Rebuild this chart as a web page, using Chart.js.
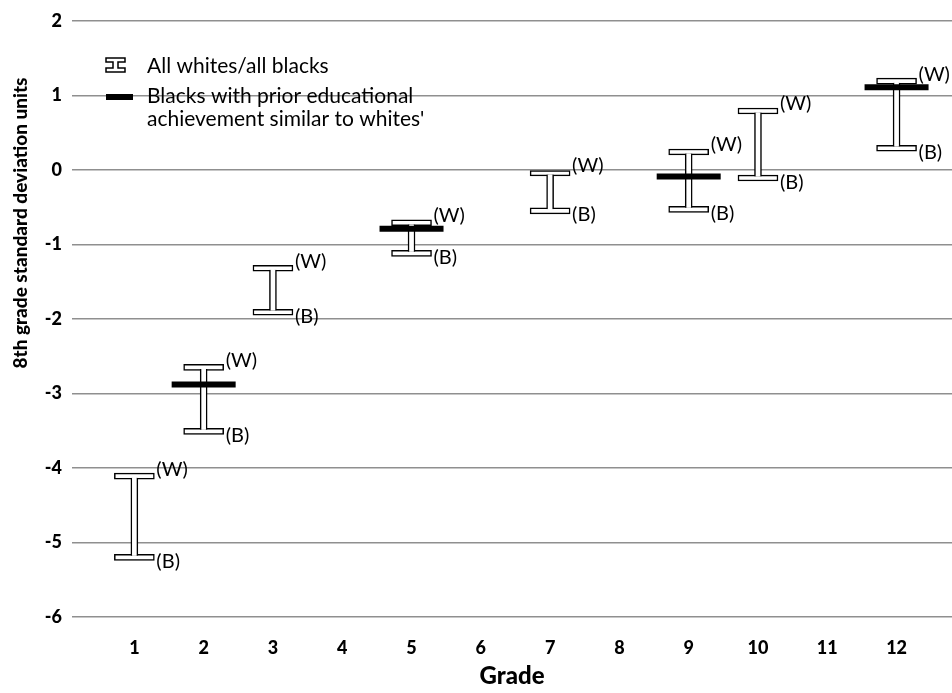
<!DOCTYPE html>
<html>
<head>
<meta charset="utf-8">
<script src="https://cdn.jsdelivr.net/npm/chart.js@4.4.0/dist/chart.umd.min.js"></script>
<style>
  html, body { margin: 0; padding: 0; background: #fff; }
  #wrap { width: 952px; height: 693px; }
</style>
</head>
<body>
<div id="wrap"><canvas id="chart" width="952" height="693"></canvas></div>
<script>
// grades that have an all whites / all blacks range
const grades = [1, 2, 3, 5, 7, 9, 10, 12];
const whites = [-4.11, -2.65, -1.32, -0.71, -0.04, 0.24, 0.79, 1.19];
const blacks = [-5.2, -3.51, -1.91, -1.12, -0.55, -0.53, -0.11, 0.29];

// blacks with prior achievement similar to whites'
const priorGrades = [2, 5, 9, 12];
const priorBlacks = [-2.88, -0.79, -0.09, 1.11];

const gradeTicks = [1, 2, 3, 4, 5, 6, 7, 8, 9, 10, 11, 12];
const yTicks = [2, 1, 0, -1, -2, -3, -4, -5, -6];

const CAP = 0.04;      // half height of a cap, in y units
const EDGE = 0.018;    // cap border, in y units

Chart.defaults.font.family = 'Lato, "Open Sans", sans-serif';
Chart.defaults.color = '#000';

const capStyle = {
  type: 'bar',
  backgroundColor: '#fff',
  borderColor: '#000',
  borderWidth: 1.5,
  borderSkipped: false,
  barThickness: 40,
  grouped: false,
  order: 3
};

// (W) / (B) labels next to the caps, y title and legend
const extras = {
  id: 'extras',
  afterDatasetsDraw(chart) {
    const { ctx, scales: { x, y } } = chart;
    ctx.save();
    ctx.fillStyle = '#000';
    ctx.font = '20px Lato';
    ctx.textBaseline = 'middle';
    ctx.textAlign = 'left';
    grades.forEach((g, i) => {
      const px = x.getPixelForValue(g);
      ctx.fillText('(W)', px + 22, y.getPixelForValue(whites[i]) - 7);
      ctx.fillText('(B)', px + 22, y.getPixelForValue(blacks[i]) + 4);
    });

    // y axis title
    ctx.save();
    ctx.translate(21, 223);
    ctx.rotate(-Math.PI / 2);
    ctx.textAlign = 'center';
    ctx.font = '900 19px Lato';
    ctx.fillText('8th grade standard deviation units', 0, 0);
    ctx.restore();

    // legend
    ctx.font = '21px Lato';
    ctx.lineWidth = 1.5;
    ctx.strokeStyle = '#000';
    ctx.beginPath();
    ctx.moveTo(106, 58); ctx.lineTo(125, 58); ctx.lineTo(125, 62); ctx.lineTo(118, 62);
    ctx.lineTo(118, 68); ctx.lineTo(125, 68); ctx.lineTo(125, 72); ctx.lineTo(106, 72);
    ctx.lineTo(106, 68); ctx.lineTo(113, 68); ctx.lineTo(113, 62); ctx.lineTo(106, 62);
    ctx.closePath();
    ctx.stroke();
    ctx.fillText('All whites/all blacks', 147, 66);
    ctx.fillRect(106, 94, 27, 6);
    ctx.fillText('Blacks with prior educational', 147, 96);
    ctx.fillText('achievement similar to whites\'', 147, 119);
    ctx.restore();
  }
};

new Chart(document.getElementById('chart'), {
  type: 'bar',
  data: {
    datasets: [
      {
        ...capStyle,
        label: 'top caps',
        data: grades.map((g, i) => ({ x: g, y: [whites[i] - CAP, whites[i] + CAP] }))
      },
      {
        ...capStyle,
        label: 'bottom caps',
        data: grades.map((g, i) => ({ x: g, y: [blacks[i] - CAP, blacks[i] + CAP] }))
      },
      {
        type: 'bar',
        label: 'All whites/all blacks',
        data: grades.map((g, i) => ({ x: g, y: [blacks[i] + CAP - EDGE, whites[i] - CAP + EDGE] })),
        backgroundColor: '#fff',
        borderColor: '#000',
        borderWidth: { left: 1.5, right: 1.5, top: 0, bottom: 0 },
        borderSkipped: false,
        barThickness: 7,
        grouped: false,
        order: 2
      },
      {
        type: 'scatter',
        label: 'Blacks with prior educational achievement similar to whites\'',
        data: priorGrades.map((g, i) => ({ x: g, y: priorBlacks[i] })),
        pointStyle: 'line',
        pointRadius: 32,
        pointHoverRadius: 32,
        borderColor: '#000',
        borderWidth: 6,
        pointBorderWidth: 6,
        order: 0
      }
    ]
  },
  options: {
    responsive: false,
    animation: false,
    layout: { autoPadding: false, padding: { top: 17, left: 0, right: 0, bottom: 0 } },
    plugins: {
      legend: { display: false },
      tooltip: { enabled: false }
    },
    scales: {
      x: {
        type: 'linear',
        min: 0.1,
        max: 12.8,
        offset: false,
        afterBuildTicks: (s) => { s.ticks = gradeTicks.map(v => ({ value: v })); },
        afterFit: (s) => { s.height = 76; },
        grid: { display: false, offset: false },
        border: { display: false },
        ticks: { font: { size: 18, weight: 900 }, padding: 12, maxRotation: 0 },
        title: {
          display: true,
          text: 'Grade',
          font: { size: 24, weight: 900 },
          padding: { top: 0, bottom: 2 }
        }
      },
      y: {
        min: -6,
        max: 2,
        afterBuildTicks: (s) => { s.ticks = yTicks.map(v => ({ value: v })); },
        afterFit: (s) => { s.width = 72; },
        grid: { color: '#8f8f8f', lineWidth: 1.5, drawTicks: false },
        border: { display: false },
        ticks: { font: { size: 18, weight: 900 }, padding: 10 }
      }
    }
  },
  plugins: [extras]
});
</script>
</body>
</html>
